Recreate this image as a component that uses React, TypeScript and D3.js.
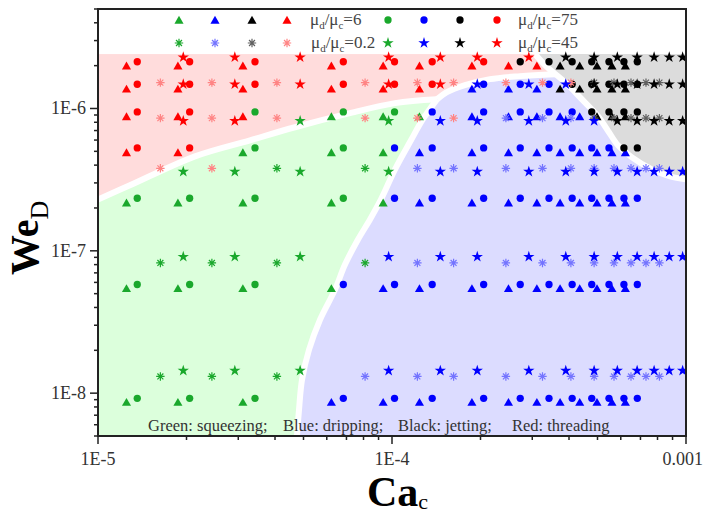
import React from "react";
import * as d3 from "d3";

// ---------- data ----------
// mu_d/mu_c = 6 (triangles)
const caTri = [1.25e-5, 1.87e-5, 3.11e-5, 6.22e-5, 9.33e-5, 1.24e-4, 1.87e-4, 2.49e-4, 3.11e-4, 3.73e-4, 4.35e-4, 4.98e-4, 5.6e-4, 6.22e-4];
const weTri = [1.96e-6, 1.35e-6, 8.64e-7, 4.82e-7, 2.14e-7, 5.35e-8, 8.5e-9];
const regTri = [
  "RRRRRRRRRKKKKK",
  "RRRRRRBBBKKKKK",
  "RRRGGGBBBBBKKK",
  "RRGGGBBBBBBBBB",
  "GGGGGBBBBBBBBB",
  "GGGGBBBBBBBBBB",
  "GGGBBBBBBBBBBB",
];
// mu_d/mu_c = 75 (circles)
const caCir = [1.36e-5, 2.05e-5, 3.42e-5, 6.83e-5, 1.02e-4, 1.37e-4, 2.05e-4, 2.73e-4, 3.42e-4, 4.1e-4, 4.78e-4, 5.47e-4, 6.15e-4, 6.83e-4];
const weCir = [2.13e-6, 1.48e-6, 9.46e-7, 5.28e-7, 2.34e-7, 5.8e-8, 9.2e-9];
const regCir = [
  "RRRRRRRKKKKKKK",
  "RRRRRRBBBKKKKK",
  "RRGGGBBBBBKKKK",
  "RRGGBBBBBBBBKK",
  "GGGGBBBBBBBBBB",
  "GGGBBBBBBBBBBB",
  "GGGBBBBBBBBBBB",
];
// mu_d/mu_c = 0.2 (asterisks)
const caAst = [1.63e-5, 2.44e-5, 4.06e-5, 8.1e-5, 1.22e-4, 1.62e-4, 2.44e-4, 3.25e-4, 4.06e-4, 4.87e-4, 5.69e-4, 6.5e-4, 7.31e-4, 8.12e-4];
const weAst = [1.52e-6, 8.55e-7, 3.8e-7, 8.22e-8, 1.31e-8];
const regAst = [
  "RRRRRRRRRKKKKK",
  "RRRRRRBBBKKKKK",
  "RRGGBBBBBBBBBB",
  "GGGGBBBBBBBBBB",
  "GGGBBBBBBBBBBB",
];
// mu_d/mu_c = 45 (stars)
const caStar = [1.95e-5, 2.92e-5, 4.87e-5, 9.74e-5, 1.46e-4, 1.95e-4, 2.92e-4, 3.9e-4, 4.87e-4, 5.84e-4, 6.82e-4, 7.79e-4, 8.77e-4, 9.74e-4];
const weStar = [2.29e-6, 1.48e-6, 8.18e-7, 3.6e-7, 9.08e-8, 1.44e-8];
const regStar = [
  "RRRRRRRKKKKKKK",
  "RRRRRBBBKKKKKK",
  "RRGGBBBBBKKKKK",
  "GGGGBBBBBBBBBB",
  "GGGBBBBBBBBBBB",
  "GGGBBBBBBBBBBB",
];

// regime boundaries [Ca, We]
const regionTop = 2.412e-6;
const bRedGreen: [number, number][] = [
  [1e-5, 2.297e-7], [1.284e-5, 2.884e-7], [2.137e-5, 4.613e-7], [3.289e-5, 5.978e-7],
  [4.678e-5, 7.384e-7], [7.194e-5, 9.267e-7], [1.024e-4, 1.09e-6], [1.422e-4, 1.159e-6],
];
const bRedBlue: [number, number][] = [
  [1.422e-4, 1.159e-6], [1.538e-4, 1.303e-6], [1.771e-4, 1.459e-6], [2.154e-4, 1.608e-6],
  [2.725e-4, 1.688e-6], [3.584e-4, 1.743e-6],
];
const bGreenBlue: [number, number][] = [
  [1.422e-4, 1.159e-6], [1.274e-4, 8.406e-7], [1.16e-4, 5.978e-7], [1.024e-4, 3.736e-7],
  [9.175e-5, 2.297e-7], [8.418e-5, 1.661e-7], [7.663e-5, 1.201e-7], [6.921e-5, 8.008e-8],
  [6.399e-5, 5.339e-8], [5.69e-5, 3.281e-8], [5.221e-5, 2.018e-8], [4.942e-5, 1.241e-8],
  [4.827e-5, 7.626e-9], [4.752e-5, 5e-9],
];
const bBlack: [number, number][] = [
  [3.065e-4, 2.412e-6], [3.341e-4, 1.985e-6], [3.876e-4, 1.532e-6], [4.429e-4, 1.159e-6],
  [5.018e-4, 8.826e-7], [5.469e-4, 6.806e-7], [5.87e-4, 5.514e-7], [6.55e-4, 4.539e-7],
  [7.66e-4, 3.736e-7], [8.82e-4, 3.336e-7], [1e-3, 3.178e-7],
];

const xDomain = [1e-5, 1e-3];
const yDomain = [5e-9, 5e-6];
const xTickLabels = [
  { v: 1e-5, t: "1E-5", anchor: "middle", dx: 0 },
  { v: 1e-4, t: "1E-4", anchor: "middle", dx: 0 },
  { v: 1e-3, t: "0.001", anchor: "end", dx: 17 },
];
const yTickLabels = [
  { v: 1e-8, t: "1E-8" },
  { v: 1e-7, t: "1E-7" },
  { v: 1e-6, t: "1E-6" },
];
const regimeNote = [
  { t: "Green: squeezing;", x: 148 },
  { t: "Blue: dripping;", x: 283 },
  { t: "Black: jetting;", x: 398 },
  { t: "Red: threading", x: 512 },
];

// ---------- styling ----------
const COL: Record<string, string> = { G: "#1aa82c", B: "#0000ff", K: "#000000", R: "#ff0000" };
const AST: Record<string, string> = { G: "#1aa82c", B: "#7474ff", K: "#606060", R: "#ff8484" };
const FILL = { R: "#ffdcdc", G: "#dcffdc", B: "#dcdcff", K: "#dcdcdc" };
const FONT = "Liberation Serif, Times New Roman, serif";

const L = 98, R = 686, T = 9, B = 436;

const x = d3.scaleLog().domain(xDomain).range([L, R]);
const y = d3.scaleLog().domain(yDomain).range([B, T]);

const triPath = d3.symbol(d3.symbolTriangle, 36)()!;
const cirPath = d3.symbol(d3.symbolCircle, 42)()!;
const starPath = d3.symbol(d3.symbolStar, 40)()!;
const astPath = (() => {
  const r = 4.2, a = r * 0.7071;
  return `M${-r},0L${r},0M0,${-r}L0,${r}M${-a},${-a}L${a},${a}M${-a},${a}L${a},${-a}`;
})();

function cells(cas: number[], wes: number[], regs: string[]) {
  const out: { ca: number; we: number; r: string }[] = [];
  wes.forEach((we, i) => cas.forEach((ca, j) => out.push({ ca, we, r: regs[i][j] })));
  return out;
}

const line = d3
  .line<[number, number]>()
  .x((d) => x(d[0]))
  .y((d) => y(d[1]))
  .curve(d3.curveCatmullRom.alpha(0.5));
const seg = (p: [number, number][]) => line(p) as string;
const join = (...parts: string[]) =>
  parts.map((p, i) => (i === 0 ? p : p.replace(/^M/, "L"))).join("") + "Z";

function Marker({ kind, color, cx, cy }: { kind: string; color: string; cx: number; cy: number }) {
  const tr = `translate(${cx},${cy})`;
  if (kind === "ast")
    return <path d={astPath} transform={tr} stroke={color} strokeWidth={1.2} fill="none" />;
  const d = kind === "tri" ? triPath : kind === "cir" ? cirPath : starPath;
  return <path d={d} transform={tr} fill={color} />;
}

function MuLabel({ x0, y0, val }: { x0: number; y0: number; val: string }) {
  return (
    <text x={x0} y={y0} fontFamily={FONT} fontSize={17} fill="#444">
      μ<tspan fontSize={11} dy={4}>d</tspan>
      <tspan dy={-4}>/μ</tspan>
      <tspan fontSize={11} dy={4}>c</tspan>
      <tspan dy={-4}>={val}</tspan>
    </text>
  );
}

export default function App() {
  const yt = y(regionTop);
  const xl = x(xDomain[0]), xr = x(xDomain[1]), yb = y(yDomain[0]);

  const greenPath = join(seg(bRedGreen), seg(bGreenBlue), `M${xl},${yb}`);
  const bluePath = join(
    seg(bRedBlue),
    `M${xr},${y(bRedBlue[bRedBlue.length - 1][1])}`,
    `M${xr},${yb}`,
    seg([...bGreenBlue].reverse())
  );
  const grayPath = join(seg(bBlack), `M${xr},${yt}`);

  const series = [
    { kind: "tri", pts: cells(caTri, weTri, regTri) },
    { kind: "cir", pts: cells(caCir, weCir, regCir) },
    { kind: "ast", pts: cells(caAst, weAst, regAst) },
    { kind: "star", pts: cells(caStar, weStar, regStar) },
  ];

  const xt = x.ticks();
  const ytk = y.ticks();
  const isMajor = (v: number) => Math.abs(Math.log10(v) - Math.round(Math.log10(v))) < 1e-6;

  const legendColors = ["G", "B", "K", "R"];
  const legX1 = [179, 215, 252, 287];
  const legX2 = [388, 424, 460, 497];

  return (
    <svg width={704} height={514} style={{ position: "absolute", left: 0, top: 0, display: "block", background: "#fff" }}>
      <defs>
        <clipPath id="plot">
          <rect x={L} y={T} width={R - L} height={B - T} />
        </clipPath>
      </defs>
      <g clipPath="url(#plot)">
        <rect x={xl} y={yt} width={xr - xl} height={yb - yt} fill={FILL.R} />
        <path d={greenPath} fill={FILL.G} />
        <path d={bluePath} fill={FILL.B} />
        <path d={grayPath} fill={FILL.K} />
        {[bRedGreen, bRedBlue, bGreenBlue, bBlack].map((b, i) => (
          <path key={i} d={seg(b)} fill="none" stroke="#fff" strokeWidth={6} />
        ))}
        {series.map((s) =>
          s.pts.map((p, i) => (
            <Marker
              key={s.kind + i}
              kind={s.kind}
              color={s.kind === "ast" ? AST[p.r] : COL[p.r]}
              cx={x(p.ca)}
              cy={y(p.we)}
            />
          ))
        )}
      </g>

      {/* legend */}
      {legendColors.map((c, i) => (
        <g key={"l" + i}>
          <Marker kind="tri" color={COL[c]} cx={legX1[i]} cy={21} />
          <Marker kind="ast" color={AST[c]} cx={legX1[i]} cy={43} />
          <Marker kind="cir" color={COL[c]} cx={legX2[i]} cy={20} />
          <Marker kind="star" color={COL[c]} cx={legX2[i]} cy={43} />
        </g>
      ))}
      <MuLabel x0={310} y0={25} val="6" />
      <MuLabel x0={311} y0={48} val="0.2" />
      <MuLabel x0={518} y0={25} val="75" />
      <MuLabel x0={518} y0={48} val="45" />

      {/* regime note */}
      {regimeNote.map((n, i) => (
        <text key={i} x={n.x} y={431} fontFamily={FONT} fontSize={16.5} fill="#333">
          {n.t}
        </text>
      ))}

      {/* frame */}
      <rect x={L} y={T} width={R - L} height={B - T} fill="none" stroke="#222" strokeWidth={2} />

      {/* x ticks */}
      {xt.map((v, i) => (
        <line key={"xt" + i} x1={x(v)} x2={x(v)} y1={B} y2={B + (isMajor(v) ? 8 : 4)} stroke="#222" strokeWidth={1.5} />
      ))}
      {xTickLabels.map((t) => (
        <text key={t.t} x={x(t.v) + t.dx} y={465} textAnchor={t.anchor} fontFamily={FONT} fontSize={18} fill="#333">
          {t.t}
        </text>
      ))}
      {/* y ticks */}
      {ytk.map((v, i) => (
        <line key={"yt" + i} x1={L - (isMajor(v) ? 8 : 4)} x2={L} y1={y(v)} y2={y(v)} stroke="#222" strokeWidth={1.5} />
      ))}
      {yTickLabels.map((t) => (
        <text key={t.t} x={86} y={y(t.v) + 6} textAnchor="end" fontFamily={FONT} fontSize={18} fill="#333">
          {t.t}
        </text>
      ))}

      {/* axis titles */}
      <text x={367} y={506} fontFamily={FONT} fontSize={42} fontWeight="bold" fill="#000">
        Ca<tspan fontSize={22} dy={3} fontWeight="normal">c</tspan>
      </text>
      <text transform="translate(38,275) rotate(-90)" fontFamily={FONT} fontSize={40} fontWeight="bold" fill="#000">
        We<tspan fontSize={26} dy={10} fontWeight="normal">D</tspan>
      </text>
    </svg>
  );
}
